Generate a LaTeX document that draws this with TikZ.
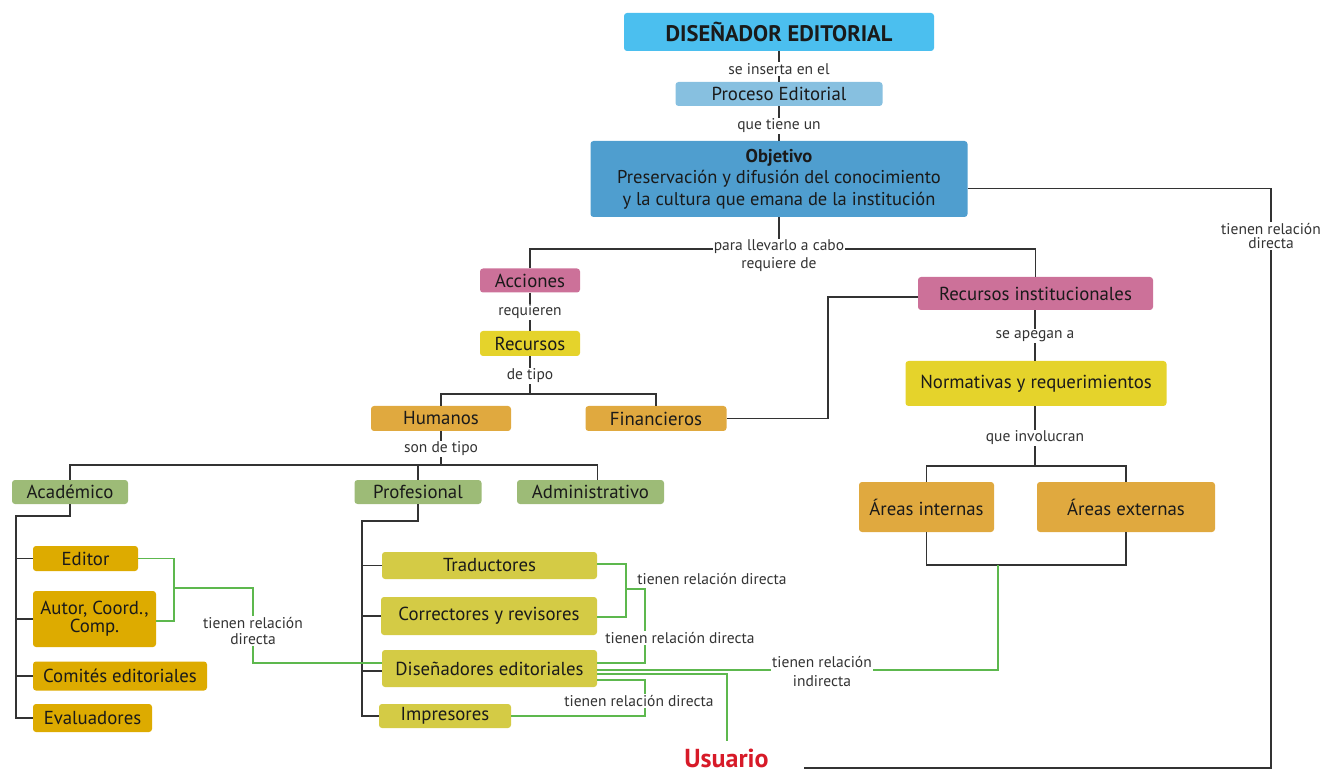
\documentclass[tikz,border=0pt]{standalone}
\usepackage{fontspec}
\setmainfont{PT Sans}
\usetikzlibrary{calc}
\definecolor{cTitle}{HTML}{4BBFEF}
\definecolor{cProc}{HTML}{87C0E0}
\definecolor{cObj}{HTML}{4F9ECF}
\definecolor{cPink}{HTML}{CC7199}
\definecolor{cYellow}{HTML}{E5D32B}
\definecolor{cOrange}{HTML}{E0A93F}
\definecolor{cGreen}{HTML}{9DBB77}
\definecolor{cGold}{HTML}{DDAB00}
\definecolor{cOlive}{HTML}{D4CB45}
\definecolor{cRed}{HTML}{D71A28}
\definecolor{cLine}{HTML}{333333}
\definecolor{cGLine}{HTML}{5DB84E}
\definecolor{cText}{HTML}{1A1A1A}
\definecolor{cLabel}{HTML}{333333}
\begin{document}
\begin{tikzpicture}[x=1pt,y=-1pt,
  box/.style={rounded corners=3pt, inner sep=0pt, align=center, text=cText,
    font=\fontsize{18.8}{20}\selectfont},
  lbl/.style={font=\fontsize{15.5}{17}\selectfont, text=cLabel, inner sep=1pt, align=center},
  lblw/.style={lbl, fill=white},
  ln/.style={line width=1.3pt, draw=cLine},
  gl/.style={line width=1.2pt, draw=cGLine}]
\useasboundingbox (0,0) rectangle (1323,775);

% ---------- nodes ----------
\node[box, fill=cTitle, minimum width=310pt, minimum height=38pt,
  font=\fontsize{22.5}{24}\bfseries] (title) at (779,32) {DISEÑADOR EDITORIAL};
\node[box, fill=cProc, minimum width=207pt, minimum height=24pt] (proc) at (779,94) {Proceso Editorial};
\node[box, fill=cObj, minimum width=377pt, minimum height=76pt,
  font=\fontsize{18.5}{21.5}\selectfont] (obj) at (779,179)
  {\textbf{Objetivo}\\Preservación y difusión del conocimiento\\y la cultura que emana de la institución};
\node[box, fill=cPink, minimum width=100pt, minimum height=24pt] (acc) at (530,280.5) {Acciones};
\node[box, fill=cYellow, minimum width=100pt, minimum height=25pt] (rec) at (530,343.5) {Recursos};
\node[box, fill=cOrange, minimum width=140pt, minimum height=25pt] (hum) at (441,418.5) {Humanos};
\node[box, fill=cOrange, minimum width=141pt, minimum height=25pt] (fin) at (656,418.5) {Financieros};
\node[box, fill=cPink, minimum width=235pt, minimum height=33pt] (ri) at (1035.5,293.5) {Recursos institucionales};
\node[box, fill=cYellow, minimum width=261pt, minimum height=45pt] (norm) at (1036,383.5) {Normativas y requerimientos};
\node[box, fill=cOrange, minimum width=135pt, minimum height=50pt] (ai) at (926.5,507) {Áreas internas};
\node[box, fill=cOrange, minimum width=178pt, minimum height=50pt] (ae) at (1126,507) {Áreas externas};
\node[box, fill=cGreen, minimum width=116pt, minimum height=24pt] (aca) at (70,492) {Académico};
\node[box, fill=cGreen, minimum width=127pt, minimum height=24pt] (prof) at (418,492) {Profesional};
\node[box, fill=cGreen, minimum width=147pt, minimum height=24pt] (adm) at (590.5,492) {Administrativo};
\node[box, fill=cGold, minimum width=105pt, minimum height=25pt] (edi) at (85.5,558.5) {Editor};
\node[box, fill=cGold, minimum width=123pt, minimum height=56pt,
  font=\fontsize{18.8}{18}\selectfont] (aut) at (94.5,619) {Autor, Coord.,\\Comp.};
\node[box, fill=cGold, minimum width=174pt, minimum height=29pt] (com) at (120,676) {Comités editoriales};
\node[box, fill=cGold, minimum width=119pt, minimum height=28pt] (eva) at (92.5,718) {Evaluadores};
\node[box, fill=cOlive, minimum width=215pt, minimum height=27pt] (tra) at (489.5,565.5) {Traductores};
\node[box, fill=cOlive, minimum width=216pt, minimum height=38pt] (cor) at (489,616) {Correctores y revisores};
\node[box, fill=cOlive, minimum width=215pt, minimum height=37pt] (dis) at (489.5,668.5) {Diseñadores editoriales};
\node[box, fill=cOlive, minimum width=132pt, minimum height=24pt] (imp) at (445,716) {Impresores};
\node[text=cRed, font=\fontsize{26}{28}\bfseries, inner sep=0pt] (usu) at (726.5,758) {Usuario};

% ---------- black connectors ----------
\coordinate (j1) at (779,249);
\coordinate (j2) at (530,394);
\coordinate (j3) at (1035,466);
\coordinate (j4) at (1000,565);
\coordinate (j5) at (441,465);
\coordinate (a1) at (16,516);
\coordinate (p1) at (362,521);
\coordinate (c1) at (828,297);
\coordinate (c2) at (1271,768);
\coordinate (u1) at ($(usu.east)+(35,0)$);

\draw[ln] (title.south) -- (proc.north);
\draw[ln] (proc.south) -- (obj.south |- obj.north);
\draw[ln] (obj.south) -- (j1);
\draw[ln] (acc.north) |- (j1) -| (ri.north);
\draw[ln] (acc.south) -- (rec.north);
\draw[ln] (rec.south) -- (j2);
\draw[ln] (hum.north) |- (j2) -| (fin.north);
\draw[ln] (fin.east) -| (c1) -- (c1 -| ri.west);
\draw[ln] (ri.south -| j3) -- (norm.north -| j3);
\draw[ln] (norm.south -| j3) -- (j3);
\draw[ln] (ai.north) |- (j3) -| (ae.north);
\draw[ln] (ai.south) |- (j4) -| (ae.south);
\draw[ln] ([yshift=-9.5pt]obj.east) -| (c2) -- (c2 -| u1);
\draw[ln] (hum.south) -- (j5);
\draw[ln] (aca.north) |- (j5) -| ([xshift=7pt]adm.north);
\draw[ln] (prof.north) -- (prof.north |- j5);
\draw[ln] (aca.south) |- (a1) |- (eva.west);
\draw[ln] (a1 |- edi.west) -- (edi.west);
\draw[ln] (a1 |- aut.west) -- (aut.west);
\draw[ln] (a1 |- com.west) -- (com.west);
\draw[ln] (prof.south) |- (p1) |- (imp.west);
\draw[ln] (p1 |- tra.west) -- (tra.west);
\draw[ln] (p1 |- cor.west) -- (cor.west);
\draw[ln] ([yshift=-2.5pt]dis.west -| p1) -- ([yshift=-2.5pt]dis.west);

% ---------- green connectors ----------
\coordinate (g1) at (998,565);
\coordinate (g2) at (174,588);
\coordinate (g3) at (253,663);
\coordinate (g4) at (626,589);
\coordinate (g5) at (645,663);
\coordinate (g6) at (645,716);
\coordinate (u2) at (727,741);

\draw[gl] (edi.east) -| (g2);
\draw[gl] ([yshift=-2pt]aut.east) -| (g2);
\draw[gl] (g2) -| (g3) -- (g3 -| dis.west);
\draw[gl] ([yshift=1.5pt]tra.east) -| (g4);
\draw[gl] ([yshift=-1pt]cor.east) -| (g4);
\draw[gl] (g4) -| (g5) -- (g5 -| dis.east);
\draw[gl] (g1) |- ([yshift=-1.5pt]dis.east);
\draw[gl] ([yshift=-5.5pt]dis.east) -| (u2);
\draw[gl] ([yshift=-11.5pt]dis.east) -| (g6) -- (imp.east);

% ---------- labels ----------
\node[lblw] (l1) at (779,69) {se inserta en el};
\node[lblw] (l2) at (779,126) {que tiene un};
\node[lblw, font=\fontsize{15.5}{18}\selectfont] (l3) at (779,256) {para llevarlo a cabo\\requiere de};
\node[lblw] (l4) at (530,312) {requieren};
\node[lblw] (l5) at (530,376) {de tipo};
\node[lblw] (l6) at (441,449) {son de tipo};
\node[lblw] (l7) at (1035,336) {se apegan a};
\node[lblw] (l8) at (1035,438) {que involucran};
\node[lblw, font=\fontsize{15.5}{14}\selectfont] (l9) at (1271,236) {tienen relación\\directa};
\node[lblw, font=\fontsize{15.5}{16}\selectfont] (l10) at (253,631) {tienen relación\\directa};
\node[lbl] (l11) at (712,579) {tienen relación directa};
\node[lblw] (l12) at (680,638) {tienen relación directa};
\node[lblw] (l13) at (639,701) {tienen relación directa};
\node[lblw, font=\fontsize{15.5}{19}\selectfont] (l14) at (822,672) {tienen relación\\indirecta};
\end{tikzpicture}
\end{document}
